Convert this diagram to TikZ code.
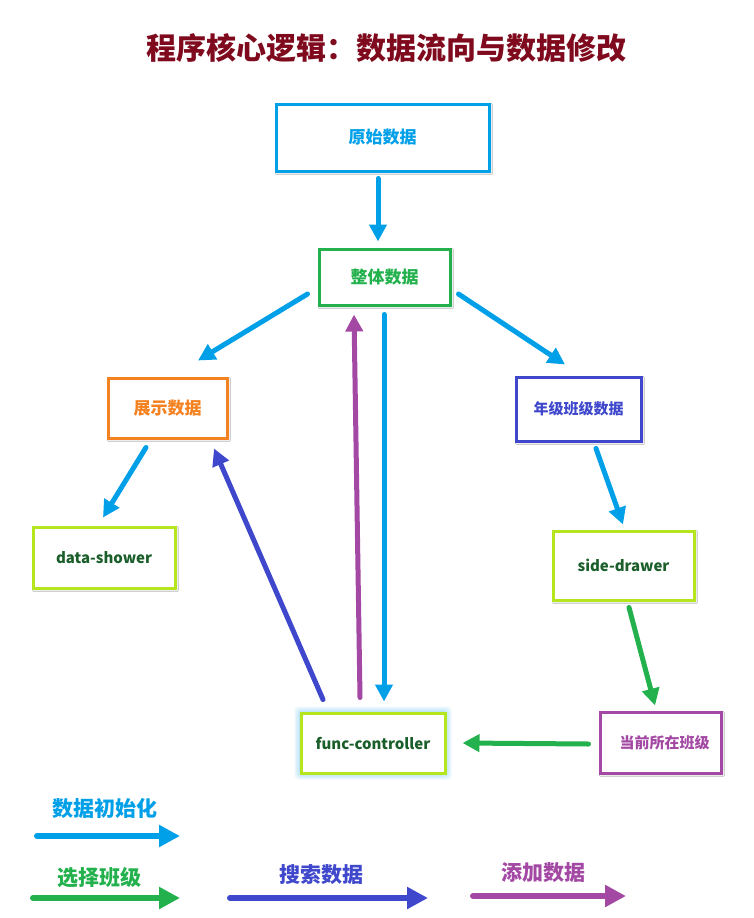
\documentclass[tikz,border=0pt]{standalone}
\usepackage{fontspec}
\setmainfont{Noto Sans CJK SC}
\usetikzlibrary{arrows.meta,shadows.blur}

\definecolor{cblue}{HTML}{00A0E9}
\definecolor{cgreen}{HTML}{22B14C}
\definecolor{corange}{HTML}{F58220}
\definecolor{cindigo}{HTML}{3F48CC}
\definecolor{cpurple}{HTML}{A349A4}
\definecolor{clime}{HTML}{B5E61D}
\definecolor{cdkgreen}{HTML}{1A5E2A}
\definecolor{ctitle}{HTML}{7F0A1E}

\tikzset{
  plainbox/.style={draw, line width=3pt, fill=white, inner sep=0pt, anchor=center,
    font=\bfseries\fontsize{17}{20}\selectfont},
  box/.style={plainbox,
    blur shadow={shadow xshift=1.5pt, shadow yshift=-1.5pt, shadow blur steps=6, shadow opacity=30}},
  small/.style={font=\bfseries\fontsize{15}{18}\selectfont},
  flow/.style={line width=5pt, line cap=round, -{Triangle[length=17pt,width=17pt]}},
  legendarrow/.style={line width=6pt, line cap=round, -{Triangle[length=21pt,width=21pt]}},
  legendtext/.style={font=\bfseries\fontsize{21}{24}\selectfont, inner sep=0pt},
  glow/.style={fill=cblue, fill opacity=0.07, draw=none, rounded corners=4pt},
}

\begin{document}
\begin{tikzpicture}[x=1pt,y=-1pt]
\useasboundingbox[fill=white] (0,0) rectangle (753,918);

% title
\node[text=ctitle, font=\bfseries\fontsize{30}{34}\selectfont, inner sep=0pt] (title) at (386,48) {程序核心逻辑：数据流向与数据修改};

% soft blue halo behind the controller box
\foreach \g in {2,3.5,5,6.5}
  \fill[glow] (301-\g,713-\g) rectangle (445+\g,773+\g);

% data nodes
\node[box, draw=cblue, text=cblue, minimum width=213pt, minimum height=67pt] (raw) at (382.5,137.5) {原始数据};
\node[box, draw=cgreen, text=cgreen, minimum width=131pt, minimum height=56pt] (whole) at (384.5,277) {整体数据};
\node[box, draw=corange, text=corange, minimum width=119pt, minimum height=60pt] (show) at (167.5,408) {展示数据};
\node[box, small, draw=cindigo, text=cindigo, minimum width=125pt, minimum height=64pt] (grade) at (578.5,409) {年级班级数据};
\node[box, small, draw=clime, text=cdkgreen, minimum width=142pt, minimum height=61pt] (shower) at (104,557.5) {data-shower};
\node[box, small, draw=clime, text=cdkgreen, minimum width=141pt, minimum height=69pt] (drawer) at (623.5,565.5) {side-drawer};
\node[plainbox, small, draw=clime, text=cdkgreen, minimum width=144pt, minimum height=60pt] (func) at (373,743) {func-controller};
\node[box, small, draw=cpurple, text=cpurple, minimum width=121pt, minimum height=61pt] (cur) at (660.5,742.5) {\hspace*{8pt}当前所在班级};

% data initialisation flow
\draw[flow, cblue] ([shift={(-4.5,6)}]raw.south) -- ([shift={(-6.5,-6)}]whole.north);
\draw[flow, cblue] ([shift={(-10,17)}]whole.west) -- ([shift={(30.5,-16)}]show.north);
\draw[flow, cblue] ([shift={(7,17)}]whole.east) -- ([shift={(-13.5,-11)}]grade.north);
\draw[flow, cblue] ([shift={(-21.5,8)}]show.south) -- ([shift={(-1,-8)}]shower.north);
\draw[flow, cblue] ([shift={(17.5,6)}]grade.south) -- ([shift={(-0.5,-5)}]drawer.north);
\draw[flow, cblue] ([shift={(-0.5,8)}]whole.south) -- ([shift={(11,-10)}]func.north);

% class selection flow
\draw[flow, cgreen] ([shift={(5.5,6)}]drawer.south) -- ([shift={(-5.5,-5)}]cur.north);
\draw[flow, cgreen] ([shift={(-10,1.5)}]cur.west) -- ([shift={(16,0)}]func.east);

% search and add flows
\draw[flow, cindigo] ([shift={(-50,-12)}]func.north) -- ([shift={(46.5,9)}]show.south);
\draw[flow, cpurple] ([shift={(-13,-14)}]func.north) -- ([shift={(-30.5,8)}]whole.south);

% legend
\node[legendtext, text=cblue] (lgInit) at (105,808) {数据初始化};
\coordinate (lgInitA) at (37,836);
\coordinate (lgInitB) at (180,836);
\draw[legendarrow, cblue] (lgInitA) -- (lgInitB);

\node[legendtext, text=cgreen] (lgSel) at (99,878) {选择班级};
\coordinate (lgSelA) at (33,898);
\coordinate (lgSelB) at (180,898);
\draw[legendarrow, cgreen] (lgSelA) -- (lgSelB);

\node[legendtext, text=cindigo] (lgSearch) at (321,875) {搜索数据};
\coordinate (lgSearchA) at (230,898);
\coordinate (lgSearchB) at (428,898);
\draw[legendarrow, cindigo] (lgSearchA) -- (lgSearchB);

\node[legendtext, text=cpurple] (lgAdd) at (543,873) {添加数据};
\coordinate (lgAddA) at (473,896);
\coordinate (lgAddB) at (626,896);
\draw[legendarrow, cpurple] (lgAddA) -- (lgAddB);
\end{tikzpicture}
\end{document}
